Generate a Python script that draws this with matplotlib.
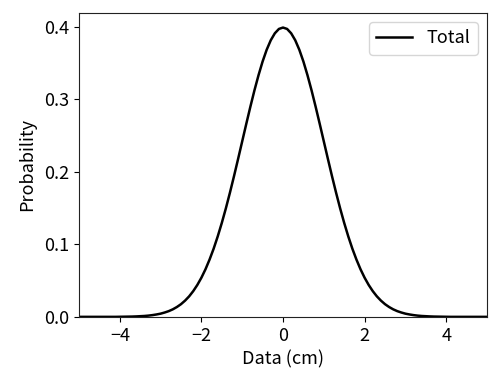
import matplotlib
matplotlib.use("Agg")
import matplotlib.pyplot as plt

plt.rcParams['font.family'] = ['Noto Sans CJK JP', 'DejaVu Sans']

# values, step 0.1 from -5 to 5 (curve is symmetric)
data_cm = [round(-5 + 0.1 * i, 1) for i in range(101)]
right_half = [0.3970, 0.3910, 0.3814, 0.3683, 0.3521, 0.3332, 0.3123, 0.2897, 0.2661, 0.2420,
              0.2179, 0.1942, 0.1714, 0.1497, 0.1295, 0.1109, 0.0940, 0.0790, 0.0656, 0.0540,
              0.0440, 0.0355, 0.0283, 0.0224, 0.0175, 0.0136, 0.0104, 0.0079, 0.0060, 0.0044,
              0.0033, 0.0024, 0.0017, 0.0012, 0.0009, 0.0006, 0.0004, 0.0003, 0.0002, 0.0001,
              0.0, 0.0, 0.0, 0.0, 0.0, 0.0, 0.0, 0.0, 0.0, 0.0]
probability = right_half[::-1] + [0.3989] + right_half

fig, ax = plt.subplots(figsize=(5, 3.85), dpi=100)
ax.plot(data_cm, probability, color='black', lw=1.8, label='Total')
ax.set_xlim(-5, 5)
ax.set_ylim(0, None)
ax.set_xticks([-4, -2, 0, 2, 4])
ax.set_yticks([0.0, 0.1, 0.2, 0.3, 0.4])
ax.set_xlabel('Data (cm)', fontsize=13)
ax.set_ylabel('Probability', fontsize=13, labelpad=6)
ax.tick_params(labelsize=13)
for s in ax.spines.values():
    s.set_color('#222222')
ax.legend(loc='upper right', fontsize=13)
fig.subplots_adjust(left=0.158, right=0.974, bottom=0.177, top=0.966)
fig.savefig('out.png')
